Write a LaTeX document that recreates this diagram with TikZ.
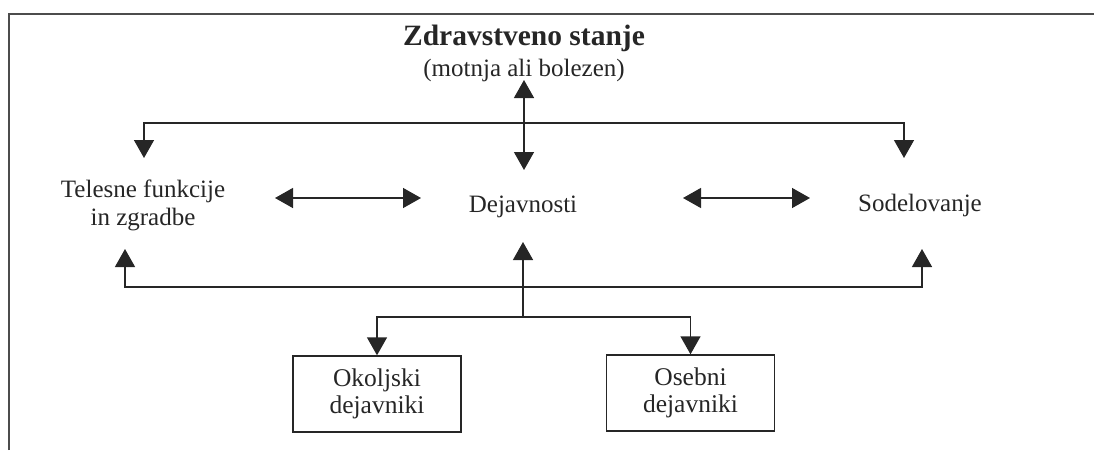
\documentclass[tikz,border=0pt]{standalone}
\usepackage{fontspec}
\setmainfont{Liberation Serif}
\usetikzlibrary{arrows.meta}
\begin{document}
\begin{tikzpicture}[x=1pt,y=-1pt,
  conn/.style={line width=1.4pt, draw=black!85},
  onearrow/.style={conn,-{Triangle[width=20pt,length=18pt]}},
  twoarrow/.style={conn,{Triangle[width=20pt,length=18pt]}-{Triangle[width=20pt,length=18pt]}},
  lbl/.style={inner sep=0pt, font=\fontsize{25}{28}\selectfont, text=black!85, align=center},
  box/.style={draw=black!85, line width=1.4pt, minimum width=168pt, minimum height=76pt, inner sep=0pt, font=\fontsize{25.5}{27}\selectfont, text=black!85, align=center},
  frame/.style={line width=2pt, draw=black!70}]
\useasboundingbox (0,0) rectangle (1094,450);
\draw[frame] (9,450) -- (9,14) -- (1094,14);

\node[lbl, anchor=base, font=\fontsize{29.5}{31}\selectfont\bfseries] (title) at (524,45) {Zdravstveno stanje};
\node[lbl, anchor=base] (sub) at (524,76) {(motnja ali bolezen)};
\node[lbl, anchor=base] (dej) at (523,212) {Dejavnosti};
\node[lbl] (tel) at (143,205) {Telesne funkcije\\in zgradbe};
\node[lbl, anchor=base] (sod) at (920,211) {Sodelovanje};
\node[box] (ok) at (377,394) {Okoljski\\dejavniki};
\node[box] (os) at (690.5,393) {Osebni\\dejavniki};

\coordinate (zt) at (524,80);
\coordinate (dt) at (524,170);
\coordinate (uL) at (144,123);
\coordinate (uR) at (904,123);
\coordinate (telT) at (144,158);
\coordinate (sodT) at (904,158);
\coordinate (hl1) at (275,198);
\coordinate (hl2) at (421,198);
\coordinate (hr1) at (683,198);
\coordinate (hr2) at (810,198);
\coordinate (telB) at (125,249);
\coordinate (sodB) at (922,249);
\coordinate (bL) at (125,287);
\coordinate (bR) at (922,287);
\coordinate (dejB) at (523,242);
\coordinate (fork) at (523,317);
\coordinate (fL) at (ok.north |- fork);
\coordinate (fR) at (os.north |- fork);

\draw[twoarrow] (telT) -- (uL) -- (uR) -- (sodT);
\draw[twoarrow] (zt) -- (dt);
\draw[twoarrow] (hl1) -- (hl2);
\draw[twoarrow] (hr1) -- (hr2);
\draw[twoarrow] (telB) -- (bL) -- (bR) -- (sodB);
\draw[onearrow] (fork) -- (dejB);
\draw[twoarrow] (ok.north) -- (fL) -- (fR) -- (os.north);
\end{tikzpicture}
\end{document}
